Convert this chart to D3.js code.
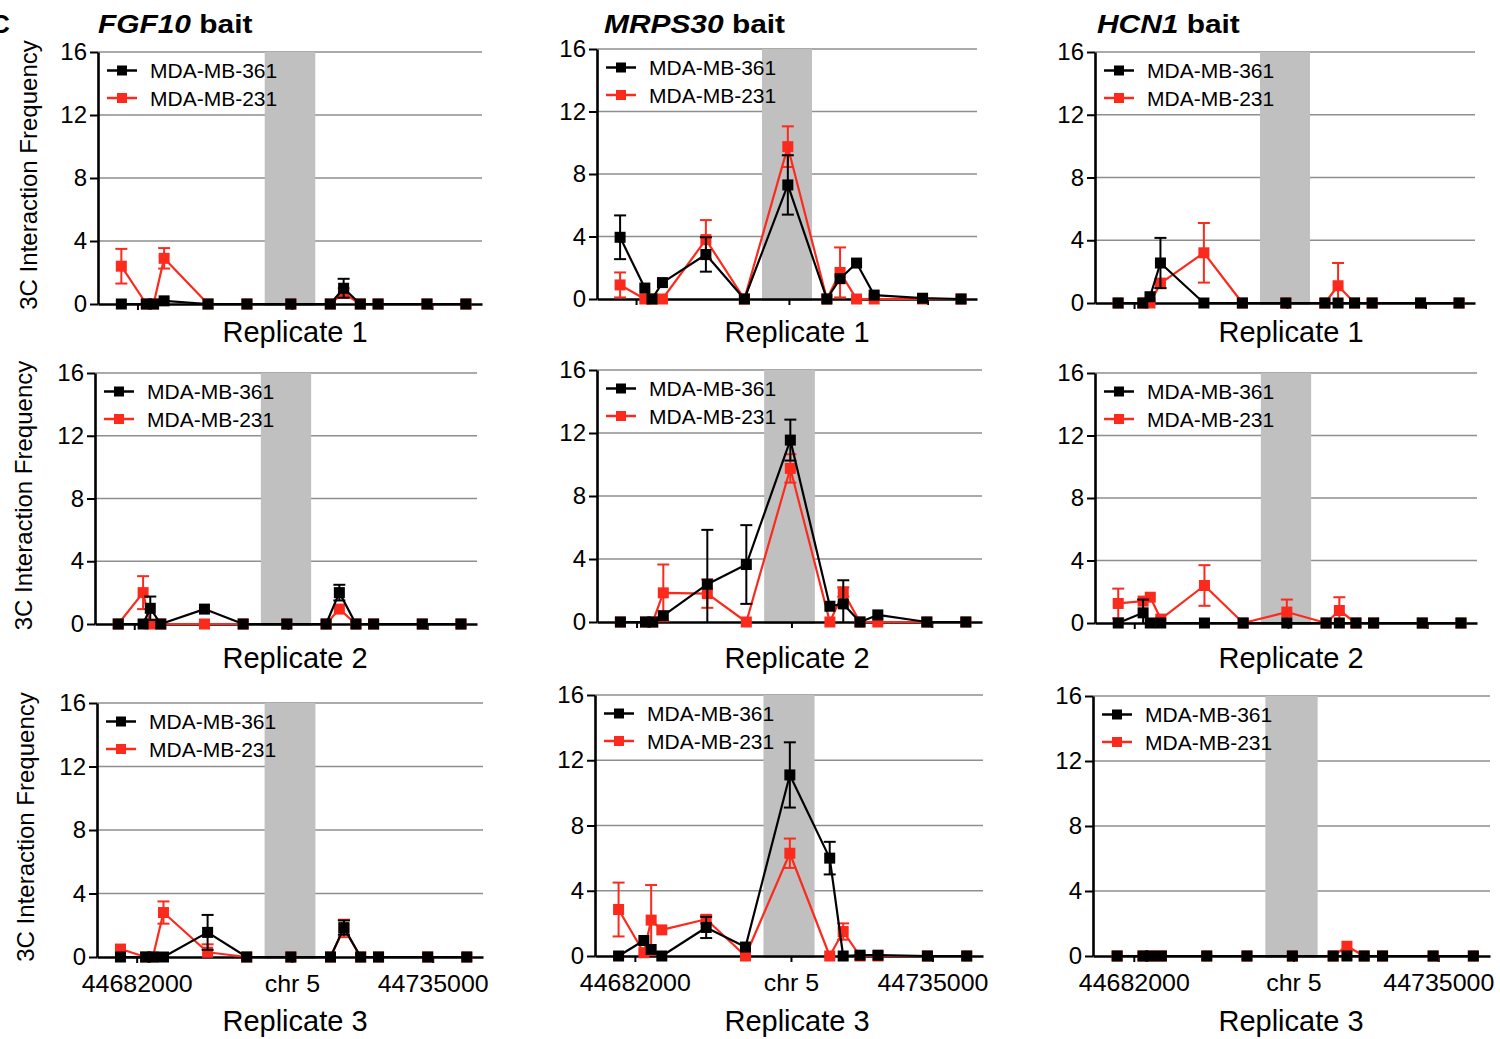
<!DOCTYPE html>
<html>
<head>
<meta charset="utf-8">
<script src="https://cdn.jsdelivr.net/npm/d3@7"></script>
<style>
  body { margin: 0; background: #fff; }
  svg { display: block; font-family: 'Liberation Sans', Arial, Helvetica, sans-serif; }
</style>
</head>
<body>
<div id="chart"></div>
<script>
// restriction fragment positions on chr 5 (bp)
const fragmentPos = [44679100, 44683600, 44684900, 44686800, 44694700, 44701700, 44709600,
    44716700, 44719100, 44722100, 44725300, 44734100, 44741100]
const baits = ['FGF10', 'MRPS30', 'HCN1']
const replicates = ['Replicate 1', 'Replicate 2', 'Replicate 3']
const cellLines = ['MDA-MB-361', 'MDA-MB-231']
const yTicks = [0, 4, 8, 12, 16]
const xTicks = [44682000, 44709800, 44735000]
const xTickLabels = ['44682000', 'chr 5', '44735000']
const xDomain = [44674900, 44744000]
const baitRegion = [44704900, 44714000]

// mean 3C interaction frequency, one row per replicate
const fgf10Mean361 = [
    [0, 0, 0, 0.2, 0, 0, 0, 0, 1.0, 0, 0, 0, 0],
    [0, 0, 1.0, 0, 0.95, 0, 0, 0, 2.0, 0, 0, 0, 0],
    [0, 0, 0, 0, 1.55, 0, 0, 0, 1.85, 0, 0, 0, 0]
]
const fgf10Sem361 = [
    [0, 0, 0, 0, 0, 0, 0, 0, 0.6, 0, 0, 0, 0],
    [0, 0, 0.75, 0, 0, 0, 0, 0, 0.5, 0, 0, 0, 0],
    [0, 0, 0, 0, 1.1, 0, 0, 0, 0.45, 0, 0, 0, 0]
]
const fgf10Mean231 = [
    [2.4, 0, 0, 2.9, 0, 0, 0, 0, 0.7, 0, 0, 0, 0],
    [0, 2.0, 0, 0, 0, 0, 0, 0, 0.95, 0, 0, 0, 0],
    [0.5, 0, 0, 2.8, 0.3, 0, 0, 0, 1.8, 0, 0, 0, 0]
]
const fgf10Sem231 = [
    [1.1, 0, 0, 0.65, 0, 0, 0, 0, 0.3, 0, 0, 0, 0],
    [0, 1.05, 0, 0, 0, 0, 0, 0, 0, 0, 0, 0, 0],
    [0, 0, 0, 0.7, 0.5, 0, 0, 0, 0.55, 0, 0, 0, 0]
]
const mrps30Mean361 = [
    [3.95, 0.7, 0, 1.05, 2.85, 0, 7.3, 0, 1.3, 2.3, 0.25, 0.05, 0],
    [0, 0, 0, 0.4, 2.4, 3.65, 11.55, 1.0, 1.15, 0, 0.45, 0, 0],
    [0, 0.95, 0.4, 0, 1.75, 0.55, 11.1, 6.0, 0, 0.05, 0.05, 0, 0]
]
const mrps30Sem361 = [
    [1.4, 0, 0, 0, 1.1, 0, 1.9, 0, 0, 0, 0, 0, 0],
    [0, 0, 0, 0, 3.45, 2.5, 1.3, 0, 1.5, 0, 0, 0, 0],
    [0, 0, 0, 0, 0.65, 0, 2.0, 1.0, 0, 0, 0, 0, 0]
]
const mrps30Mean231 = [
    [0.9, 0, 0, 0, 3.8, 0, 9.75, 0, 1.7, 0, 0, 0, 0],
    [0, 0, 0, 1.85, 1.8, 0, 9.75, 0, 1.9, 0, 0, 0, 0],
    [2.85, 0.2, 2.2, 1.6, 2.25, 0, 6.3, 0, 1.5, 0, 0, 0, 0]
]
const mrps30Sem231 = [
    [0.8, 0, 0, 0, 1.25, 0, 1.3, 0, 1.6, 0, 0, 0, 0],
    [0, 0, 0, 1.8, 0.9, 0, 0.9, 0, 0.3, 0, 0, 0, 0],
    [1.65, 0, 2.15, 0, 0.25, 0, 0.9, 0, 0.5, 0, 0, 0, 0]
]
const hcn1Mean361 = [
    [0, 0, 0.4, 2.55, 0, 0, 0, 0, 0, 0, 0, 0, 0],
    [0, 0.65, 0, 0, 0, 0, 0, 0, 0, 0, 0, 0, 0],
    [0, 0, 0, 0, 0, 0, 0, 0, 0, 0, 0, 0, 0]
]
const hcn1Sem361 = [
    [0, 0, 0, 1.6, 0, 0, 0, 0, 0, 0, 0, 0, 0],
    [0, 0.85, 0, 0, 0, 0, 0, 0, 0, 0, 0, 0, 0],
    [0, 0, 0, 0, 0, 0, 0, 0, 0, 0, 0, 0, 0]
]
const hcn1Mean231 = [
    [0, 0, 0, 1.25, 3.2, 0, 0, 0, 1.1, 0, 0, 0, 0],
    [1.25, 1.4, 1.65, 0.25, 2.4, 0, 0.7, 0, 0.8, 0, 0, 0, 0],
    [0, 0, 0, 0, 0, 0, 0, 0, 0.6, 0, 0, 0, 0]
]
const hcn1Sem231 = [
    [0, 0, 0, 0.3, 1.9, 0, 0, 0, 1.45, 0, 0, 0, 0],
    [0.95, 0, 0, 0, 1.3, 0, 0.8, 0, 0.85, 0, 0, 0, 0],
    [0, 0, 0, 0, 0, 0, 0, 0, 0, 0, 0, 0, 0]
]

const means = {FGF10: [fgf10Mean361, fgf10Mean231], MRPS30: [mrps30Mean361, mrps30Mean231], HCN1: [hcn1Mean361, hcn1Mean231]}
const sems = {FGF10: [fgf10Sem361, fgf10Sem231], MRPS30: [mrps30Sem361, mrps30Sem231], HCN1: [hcn1Sem361, hcn1Sem231]}
const colors = ['#000000', '#fc2a1c']

// plot areas [row][col]
const boxes = [
    [{x0: 98, x1: 482, y0: 52, y1: 304}, {x0: 597, x1: 977, y0: 49, y1: 299}, {x0: 1095, x1: 1475, y0: 52, y1: 303}],
    [{x0: 95, x1: 477, y0: 373, y1: 624}, {x0: 597, x1: 982, y0: 370, y1: 622}, {x0: 1095, x1: 1477, y0: 373, y1: 623}],
    [{x0: 97, x1: 483, y0: 703, y1: 957}, {x0: 595, x1: 983, y0: 695, y1: 956}, {x0: 1093, x1: 1490, y0: 696, y1: 956}]
]
const colCenters = [295, 797, 1291]
const repBaselines = [342, 668, 1031]
const titleX = [98, 604, 1097]
const yLabelX = [37, 32, 34]

const svg = d3.select('#chart').append('svg')
    .attr('width', 1500)
    .attr('height', 1039)

// panel letter, cropped at the left edge as in the figure
svg.append('text')
    .attr('x', -9).attr('y', 33)
    .attr('font-size', 26).attr('font-weight', 'bold')
    .text('C')

baits.forEach((bait, col) => {
    const t = svg.append('text')
        .attr('transform', `translate(${titleX[col]}, 33) scale(1.15, 1)`)
        .attr('font-size', 26).attr('font-weight', 'bold')
    t.append('tspan').attr('font-style', 'italic').text(bait)
    t.append('tspan').text(' bait')

    replicates.forEach((rep, row) => {
        const box = boxes[row][col]
        const x = d3.scaleLinear().domain(xDomain).range([box.x0, box.x1])
        const y = d3.scaleLinear().domain([0, 16]).range([box.y1, box.y0])
        const g = svg.append('g')

        // grid
        g.selectAll('.grid').data(yTicks.filter(d => d > 0)).enter().append('line')
            .attr('x1', box.x0).attr('x2', box.x1)
            .attr('y1', d => y(d)).attr('y2', d => y(d))
            .attr('stroke', '#8e8e8e').attr('stroke-width', 1.3)

        g.append('rect')
            .attr('x', x(baitRegion[0])).attr('width', x(baitRegion[1]) - x(baitRegion[0]))
            .attr('y', y(16)).attr('height', y(0) - y(16) + 2)
            .attr('fill', '#c0c0c0')

        const yAxis = g.append('g')
            .attr('transform', `translate(${box.x0}, 0)`)
            .call(d3.axisLeft(y).tickValues(yTicks).tickSize(8).tickSizeOuter(0).tickPadding(3))
        const xAxis = g.append('g')
            .attr('transform', `translate(0, ${y(0)})`)
            .call(d3.axisBottom(x).tickValues(xTicks).tickSize(6).tickSizeOuter(0).tickPadding(12)
                .tickFormat((d, i) => row === 2 ? xTickLabels[i] : ''))
        ;[yAxis, xAxis].forEach(a => {
            a.select('.domain').attr('stroke', '#000').attr('stroke-width', 2.6)
            a.selectAll('.tick line').attr('stroke', '#000').attr('stroke-width', 2)
            a.selectAll('.tick text').attr('fill', '#000').attr('font-size', 24)
                .attr('font-family', "'Liberation Sans', Arial, sans-serif")
        })
        xAxis.selectAll('.tick text').attr('transform', 'scale(1.04, 1)')

        // series: red first so black sits on top
        ;[1, 0].forEach(s => {
            const vals = means[bait][s][row]
            const errs = sems[bait][s][row]
            const color = colors[s]
            const line = d3.line().x((d, i) => x(fragmentPos[i])).y(d => y(d))
            g.append('path').datum(vals)
                .attr('d', line)
                .attr('fill', 'none').attr('stroke', color).attr('stroke-width', 2.2)
                .attr('stroke-linejoin', 'round')

            const eb = g.append('g').attr('stroke', color).attr('stroke-width', 2)
            vals.forEach((v, i) => {
                const e = errs[i]
                if (!e) return
                const cx = x(fragmentPos[i])
                const lo = Math.max(0, v - e)
                eb.append('line').attr('x1', cx).attr('x2', cx).attr('y1', y(v + e)).attr('y2', y(lo))
                eb.append('line').attr('x1', cx - 6).attr('x2', cx + 6).attr('y1', y(v + e)).attr('y2', y(v + e))
                if (v - e > 0) {
                    eb.append('line').attr('x1', cx - 6).attr('x2', cx + 6).attr('y1', y(lo)).attr('y2', y(lo))
                }
            })

            g.selectAll(null).data(vals).enter().append('rect')
                .attr('x', (d, i) => x(fragmentPos[i]) - 5.5)
                .attr('y', d => y(d) - 5.5)
                .attr('width', 11).attr('height', 11)
                .attr('fill', color)
        })

        // legend
        cellLines.forEach((name, s) => {
            const ly = box.y0 + 18.5 + s * 27.5
            const lx = box.x0 + 9
            g.append('line').attr('x1', lx).attr('x2', lx + 30).attr('y1', ly).attr('y2', ly)
                .attr('stroke', colors[s]).attr('stroke-width', 2.5)
            g.append('rect').attr('x', lx + 10).attr('y', ly - 5).attr('width', 10).attr('height', 10)
                .attr('fill', colors[s])
            g.append('text').attr('x', box.x0 + 52).attr('y', ly + 7.5)
                .attr('font-size', 21).text(name)
        })

        svg.append('text')
            .attr('x', colCenters[col]).attr('y', repBaselines[row])
            .attr('text-anchor', 'middle').attr('font-size', 29)
            .text(rep)

        if (col === 0) {
            svg.append('text')
                .attr('transform', `translate(${yLabelX[row]}, ${(box.y0 + box.y1) / 2 - 3}) rotate(-90)`)
                .attr('text-anchor', 'middle').attr('font-size', 24)
                .text('3C Interaction Frequency')
        }
    })
})
</script>
</body>
</html>
